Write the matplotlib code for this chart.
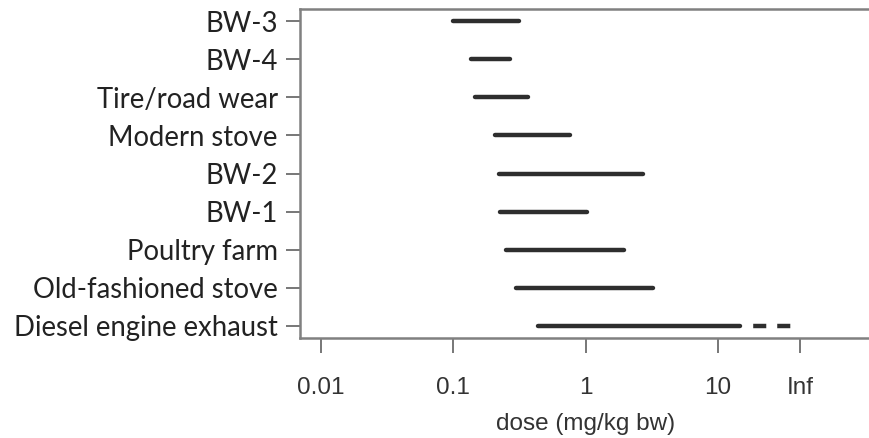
import matplotlib
matplotlib.use("Agg")
import matplotlib.pyplot as plt
import numpy as np

# ---- data ----
categories = ["BW-3", "BW-4", "Tire/road wear", "Modern stove", "BW-2",
              "BW-1", "Poultry farm", "Old-fashioned stove", "Diesel engine exhaust"]
low = [0.10, 0.135, 0.145, 0.205, 0.22, 0.225, 0.25, 0.30, 0.44]
high = [0.315, 0.27, 0.37, 0.77, 2.7, 1.02, 1.95, 3.25, 14.8]
open_ended = [False, False, False, False, False, False, False, False, True]
inf_pos = 42.0
xtick_vals = [0.01, 0.1, 1, 10, inf_pos]
xtick_labels = ["0.01", "0.1", "1", "10", "Inf"]
xlabel = "dose (mg/kg bw)"

plt.rcParams["lines.scale_dashes"] = False

W, H = 869, 438
fig = plt.figure(figsize=(W / 100, H / 100), dpi=100)
ax = fig.add_axes([300 / W, 1 - 338 / H, 571 / W, 329 / H])

n = len(categories)
ypos = np.arange(n, 0, -1)
line_color = "#2e2e2e"
lw = 3.2
for y, lo, hi, oe in zip(ypos, low, high, open_ended):
    ax.plot([lo, hi], [y, y], color=line_color, lw=lw, solid_capstyle="round")
    if oe:
        ax.plot([hi, inf_pos], [y, y], color=line_color, lw=lw,
                linestyle=(0, (0.01, 9.5, 9.4, 7.9, 9.4, 30)),
                dash_capstyle="butt")

ax.set_xscale("log")
ax.set_xlim(10 ** -2.16, 10 ** 2.16)
ax.set_ylim(0.68, n + 0.32)
ax.minorticks_off()
ax.set_xticks(xtick_vals)
ax.set_xticklabels(xtick_labels, fontsize=17.5, color="#333333",
                   family=["Liberation Sans", "DejaVu Sans"])
ax.set_yticks(ypos)
ax.set_yticklabels(categories, fontsize=19.8, color="#222222",
                   family=["Lato", "DejaVu Sans"])
ax.tick_params(axis="x", length=11, width=1.4, color="#777777", pad=17)
ax.tick_params(axis="y", length=10, width=1.4, color="#777777", pad=6)
ax.set_xlabel(xlabel, fontsize=17.5, color="#333333",
              family=["Liberation Sans", "DejaVu Sans"], labelpad=10)

for side in ["left", "top", "bottom"]:
    ax.spines[side].set_color("#808080")
    ax.spines[side].set_linewidth(1.8)
ax.spines["right"].set_visible(False)

fig.savefig("out.png", dpi=100, facecolor="white")
